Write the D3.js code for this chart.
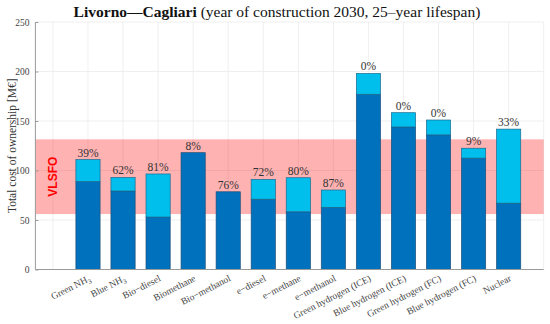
<!DOCTYPE html>
<html><head><meta charset="utf-8">
<script src="https://cdn.jsdelivr.net/npm/d3@7"></script>
<style>body{margin:0;background:#fff}svg{display:block}</style>
</head><body>
<script>
const categories = ["Green NH3","Blue NH3","Bio−diesel","Biomethane","Bio−methanol","e−diesel","e−methane","e−methanol","Green hydrogen (ICE)","Blue hydrogen (ICE)","Green hydrogen (FC)","Blue hydrogen (FC)","Nuclear"];
const totalCost = [111, 93, 96.5, 118, 78.5, 91, 92.7, 80.3, 198, 158.4, 151, 122.5, 141.8];
const baseCost  = [88.8, 79.3, 53, 118, 78.5, 71, 58.3, 62.8, 177, 144, 136, 112.5, 67];
const pctLabels = ["39%","62%","81%","8%","76%","72%","80%","87%","0%","0%","0%","9%","33%"];
const vlsfoRange = [56, 131.5];
const yTicks = [0, 50, 100, 150, 200, 250];

const W = 550, H = 324;
const svg = d3.select("body").append("svg").attr("width", W).attr("height", H);
const x = d3.scaleLinear().domain([-0.5, 14]).range([35.4, 543.7]);
const y = d3.scaleLinear().domain([0, 250]).range([269.5, 22]);
const serif = "'Liberation Serif', 'DejaVu Serif', serif";
const bw = 0.69;

// grid
const g = svg.append("g");
g.selectAll("line.v").data(d3.range(0, 15)).enter().append("line")
  .attr("x1", d => x(d)).attr("x2", d => x(d)).attr("y1", y(250)).attr("y2", y(0))
  .attr("stroke", "#ebebeb").attr("stroke-width", 0.8);
g.selectAll("line.h").data(yTicks.slice(1)).enter().append("line")
  .attr("x1", x(-0.5)).attr("x2", x(14)).attr("y1", d => y(d)).attr("y2", d => y(d))
  .attr("stroke", "#ebebeb").attr("stroke-width", 0.8);

// VLSFO band
svg.append("rect").attr("x", x(-0.5)).attr("width", x(14) - x(-0.5))
  .attr("y", y(vlsfoRange[1])).attr("height", y(vlsfoRange[0]) - y(vlsfoRange[1]))
  .attr("fill", "#ff0000").attr("fill-opacity", 0.3);
svg.append("text").attr("transform", `translate(${x(0)+4.5},${y((vlsfoRange[0]+vlsfoRange[1])/2)}) rotate(-90)`)
  .attr("text-anchor", "middle").attr("font-family", "'Liberation Sans', Arial, sans-serif")
  .attr("font-weight", "bold").attr("font-size", 12).attr("fill", "#ff0000").text("VLSFO");

// bars
const idx = d3.range(categories.length);
svg.selectAll("rect.base").data(idx).enter().append("rect")
  .attr("x", i => x(i + 1 - bw/2)).attr("width", x(bw) - x(0))
  .attr("y", i => y(baseCost[i])).attr("height", i => y(0) - y(baseCost[i]))
  .attr("fill", "#0072bd").attr("stroke", "#1d4f7a").attr("stroke-width", 0.7);
svg.selectAll("rect.top").data(idx.filter(i => totalCost[i] > baseCost[i])).enter().append("rect")
  .attr("x", i => x(i + 1 - bw/2)).attr("width", x(bw) - x(0))
  .attr("y", i => y(totalCost[i])).attr("height", i => y(baseCost[i]) - y(totalCost[i]))
  .attr("fill", "#00bfed").attr("stroke", "#1d6a8f").attr("stroke-width", 0.7);
svg.selectAll("text.pct").data(idx).enter().append("text")
  .attr("x", i => x(i + 1)).attr("y", i => y(totalCost[i]) - 3)
  .attr("text-anchor", "middle").attr("font-family", serif).attr("font-size", 11.5)
  .attr("fill", "#333").text(i => pctLabels[i]);

// axes
svg.append("line").attr("x1", x(-0.5)).attr("x2", x(-0.5)).attr("y1", y(250)).attr("y2", y(0))
  .attr("stroke", "#9a9a9a").attr("stroke-width", 1);
svg.append("line").attr("x1", x(-0.5)).attr("x2", x(14)).attr("y1", y(0)).attr("y2", y(0))
  .attr("stroke", "#9a9a9a").attr("stroke-width", 1);
const yAxis = svg.append("g").attr("transform", `translate(${x(-0.5)},0)`)
  .call(d3.axisLeft(y).tickValues(yTicks).tickSize(-3).tickPadding(6));
yAxis.select(".domain").remove();
yAxis.selectAll("line").attr("stroke", "#9a9a9a");
yAxis.selectAll("text").attr("font-family", serif).attr("font-size", 9.5).attr("fill", "#444");

// x labels
const xl = svg.selectAll("g.xl").data(idx).enter().append("g")
  .attr("transform", i => `translate(${x(i+1)},274) rotate(-27)`);
xl.append("text").attr("text-anchor", "end").attr("dy", "0.75em")
  .attr("font-family", serif).attr("font-size", 9.5).attr("fill", "#444")
  .each(function(i) {
    const t = d3.select(this);
    const lab = categories[i];
    if (lab.endsWith("NH3")) {
      t.append("tspan").text(lab.slice(0, -1));
      t.append("tspan").attr("font-size", 7).attr("dy", 2.5).text("3");
    } else t.text(lab);
  });

// y label
svg.append("text").attr("transform", `translate(16,${y(125)}) rotate(-90)`)
  .attr("text-anchor", "middle").attr("font-family", serif).attr("font-size", 11.5)
  .attr("fill", "#333").text("Total cost of ownership [M€]");

// title
const title = svg.append("text").attr("x", 277).attr("y", 17).attr("text-anchor", "middle")
  .attr("font-family", serif).attr("font-size", 15.5).attr("fill", "#111");
title.append("tspan").attr("font-weight", "bold").text("Livorno—Cagliari");
title.append("tspan").text(" (year of construction 2030, 25–year lifespan)");
</script>
</body></html>
